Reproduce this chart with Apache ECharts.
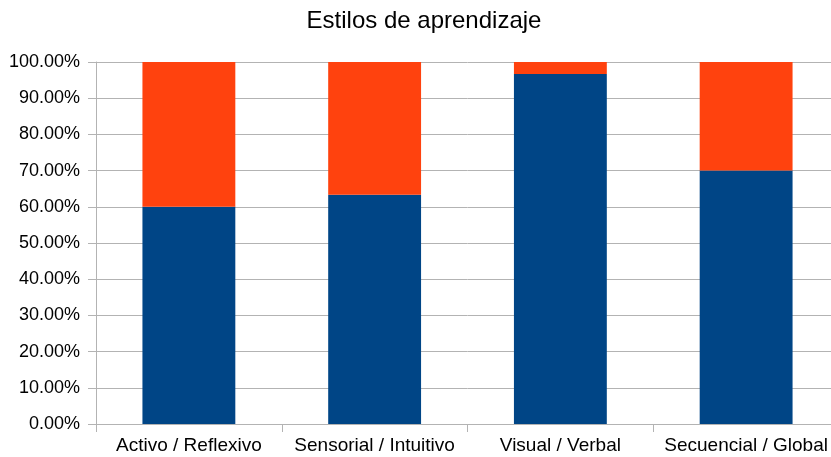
<!DOCTYPE html>
<html>
<head>
<meta charset="utf-8">
<script src="https://cdn.jsdelivr.net/npm/echarts@6/dist/echarts.min.js"></script>
<style>
  html, body { margin: 0; padding: 0; background: #fff; overflow: hidden; }
  /* the plot runs slightly past the right edge of the window */
  #chart { width: 840px; height: 457px; }
</style>
</head>
<body>
<div id="chart"></div>
<script>
// Learning-style dimensions (each pair split into two shares summing to 100 %)
const categories = ['Activo / Reflexivo', 'Sensorial / Intuitivo', 'Visual / Verbal', 'Secuencial / Global'];
const firstShare = [60.0, 63.3, 96.7, 70.0];
const secondShare = [40.0, 36.7, 3.3, 30.0];
const yTicks = [0, 10, 20, 30, 40, 50, 60, 70, 80, 90, 100];

const FONT = '"Liberation Sans", Arial, sans-serif';
const chart = echarts.init(document.getElementById('chart'), null, { renderer: 'canvas' });

chart.setOption({
  animation: false,
  backgroundColor: '#ffffff',
  title: {
    text: 'Estilos de aprendizaje',
    left: 419,
    top: 4,
    textAlign: 'center',
    textStyle: { fontFamily: FONT, fontSize: 24, fontWeight: 'normal', color: '#000000' }
  },
  grid: { left: 96, top: 62, width: 743, height: 362, containLabel: false },
  xAxis: {
    type: 'category',
    data: categories,
    axisLine: { show: true, lineStyle: { color: '#b3b3b3', width: 1 } },
    axisTick: { show: true, length: 8, lineStyle: { color: '#b3b3b3' } },
    axisLabel: { fontFamily: FONT, fontSize: 19, color: '#000000', margin: 12, interval: 0 },
    splitLine: { show: false }
  },
  yAxis: {
    type: 'value',
    min: yTicks[0],
    max: yTicks[yTicks.length - 1],
    interval: yTicks[1] - yTicks[0],
    axisLine: { show: true, lineStyle: { color: '#b3b3b3', width: 1 } },
    axisTick: { show: true, length: 8, lineStyle: { color: '#b3b3b3' } },
    axisLabel: {
      fontFamily: FONT, fontSize: 18, color: '#000000', margin: 16,
      formatter: v => v.toFixed(2) + '%'
    },
    splitLine: { show: true, lineStyle: { color: '#b3b3b3', width: 1 } }
  },
  series: [
    {
      type: 'bar', stack: 'total', data: firstShare, barWidth: '50%',
      itemStyle: { color: '#004586' }
    },
    {
      type: 'bar', stack: 'total', data: secondShare, barWidth: '50%',
      itemStyle: { color: '#ff420e' }
    }
  ]
});
</script>
</body>
</html>
